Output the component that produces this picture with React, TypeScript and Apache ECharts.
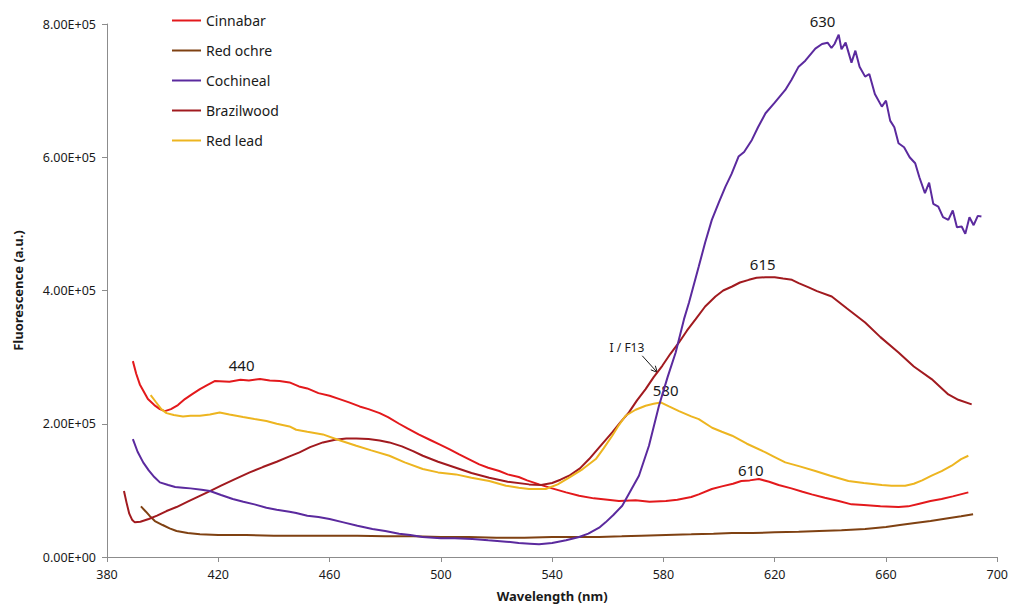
import React, { useEffect, useRef } from "react";
import * as echarts from "echarts";

// Values in units of 1e5 (a.u.), x in nm
const cinnabar: number[][] = [
  [389.3, 2.94], [390.5, 2.75], [391.8, 2.59], [394.7, 2.37], [397, 2.28], [399, 2.22], [400.8, 2.19], [403, 2.22],
  [405.5, 2.28], [408, 2.37], [410.5, 2.44], [413.4, 2.52], [416, 2.58], [418.7, 2.64], [424, 2.63], [428, 2.66],
  [431, 2.65], [435, 2.67], [438.5, 2.65], [442, 2.64], [445.6, 2.62], [449, 2.56], [452, 2.53], [456, 2.46],
  [460, 2.42], [463.6, 2.37], [467, 2.32], [470.8, 2.26], [474, 2.22], [478, 2.16], [481, 2.1], [485, 2.0],
  [488, 1.93], [492, 1.84], [496, 1.76], [499.5, 1.69], [503, 1.62], [506.6, 1.54], [510, 1.47], [513.8, 1.39],
  [517, 1.34], [521, 1.29], [524, 1.24], [528, 1.2], [531, 1.15], [535.3, 1.09], [540, 1.03], [545, 0.97],
  [549.7, 0.92], [555, 0.88], [560, 0.86], [564, 0.84], [570, 0.85], [575, 0.83], [580.9, 0.84], [585, 0.86],
  [590, 0.9], [592.7, 0.94], [597.4, 1.02], [601, 1.06], [605, 1.1], [608, 1.14], [611, 1.15], [614.3, 1.17],
  [618, 1.13], [621.4, 1.08], [626, 1.03], [630, 0.98], [633.3, 0.94], [638, 0.89], [643, 0.84], [647.6, 0.79],
  [652, 0.78], [658, 0.76], [664.5, 0.75], [668, 0.76], [672, 0.8], [676, 0.84], [680, 0.87], [684, 0.91], [689.6, 0.97],
];

const redOchre: number[][] = [
  [392.2, 0.76], [394, 0.68], [395.5, 0.61], [397.2, 0.54], [400, 0.48], [402.5, 0.43], [405, 0.39], [409, 0.36],
  [413.4, 0.34], [420, 0.33], [430, 0.33], [440, 0.32], [449, 0.32], [460, 0.32], [470, 0.32], [480, 0.31],
  [490, 0.31], [500, 0.3], [510, 0.3], [520, 0.29], [530, 0.29], [540, 0.3], [550, 0.3], [556.9, 0.3],
  [565, 0.31], [572, 0.32], [580.9, 0.33], [590, 0.34], [598, 0.35], [604.7, 0.36], [612, 0.36], [620, 0.37],
  [628.6, 0.38], [636, 0.39], [644, 0.4], [652.5, 0.42], [660, 0.45], [665, 0.48], [670.4, 0.51], [676, 0.54],
  [682.3, 0.58], [687, 0.61], [691.3, 0.64],
];

const cochineal: number[][] = [
  [389.3, 1.77], [391, 1.58], [393, 1.42], [395, 1.3], [397, 1.2], [399, 1.12], [402, 1.08], [404.5, 1.05],
  [407.3, 1.04], [410, 1.03], [414, 1.01], [417, 0.99], [421, 0.93], [425.2, 0.87], [429, 0.83], [433, 0.79],
  [437.3, 0.74], [441, 0.71], [445.6, 0.68], [448, 0.66], [452, 0.62], [456, 0.6], [460, 0.57], [465, 0.52],
  [470, 0.47], [475.4, 0.42], [480, 0.39], [485, 0.35], [489, 0.33], [493.4, 0.3], [500, 0.28], [505, 0.28],
  [511.3, 0.27], [517, 0.25], [523.5, 0.23], [528, 0.21], [532, 0.2], [535.3, 0.19], [540, 0.21], [545, 0.25],
  [549.7, 0.3], [553, 0.35], [556.9, 0.44], [559.2, 0.52], [562, 0.63], [565.2, 0.77], [568, 0.98], [571.2, 1.22],
  [574.8, 1.67], [578.4, 2.27], [581.5, 2.7], [584.4, 3.07], [587.4, 3.57], [589.2, 3.82], [592.7, 4.36],
  [595, 4.72], [597.4, 5.06], [600, 5.33], [602.3, 5.56], [604.5, 5.75], [607, 6.01], [609, 6.08], [611.8, 6.26],
  [614, 6.45], [616.7, 6.66], [620, 6.82], [623.8, 7.01], [626, 7.16], [628.6, 7.36], [631, 7.45], [634.6, 7.63],
  [637, 7.7], [639, 7.72], [640.4, 7.64], [641.5, 7.7], [643, 7.84], [644, 7.62], [645.5, 7.72], [647.6, 7.42],
  [649, 7.6], [650.5, 7.36], [652.5, 7.21], [654, 7.25], [656, 6.95], [658.5, 6.76], [660, 6.85], [661.5, 6.55],
  [663, 6.45], [664.5, 6.21], [666.5, 6.15], [668.5, 6.0], [670.5, 5.91], [672, 5.7], [674, 5.46], [675.5, 5.62],
  [677, 5.3], [678.8, 5.26], [680.5, 5.1], [682.4, 5.06], [684, 5.2], [685.5, 4.95], [687.2, 4.96], [688.5, 4.85],
  [690, 5.1], [691.5, 4.98], [693, 5.12], [694.3, 5.11],
];

const brazilwood: number[][] = [
  [386.1, 0.99], [387, 0.82], [388, 0.65], [389, 0.56], [390, 0.52], [392, 0.53], [395, 0.57], [398, 0.62],
  [401.4, 0.69], [405, 0.75], [409, 0.83], [413, 0.91], [417, 0.99], [421, 1.07], [426, 1.17], [431.3, 1.27],
  [436, 1.35], [441, 1.43], [445.6, 1.51], [449.2, 1.57], [453, 1.65], [457.6, 1.72], [462, 1.76], [466, 1.78],
  [469.6, 1.78], [474, 1.77], [478, 1.75], [481.5, 1.72], [486, 1.66], [490, 1.59], [493.5, 1.52], [499, 1.43],
  [505.4, 1.34], [511, 1.26], [517.4, 1.19], [524, 1.13], [531.7, 1.09], [536, 1.08], [540, 1.11], [543, 1.16],
  [546.1, 1.22], [550, 1.33], [553.3, 1.47], [557, 1.65], [561.6, 1.87], [564.5, 2.02], [567.6, 2.17], [570.5, 2.35],
  [573.6, 2.52], [576.5, 2.7], [579.6, 2.87], [582.5, 3.05], [585.6, 3.22], [588.5, 3.4], [591.6, 3.57], [595, 3.76],
  [598.7, 3.91], [601.5, 4.0], [604.7, 4.06], [607.5, 4.12], [610.7, 4.16], [613.5, 4.19], [616.7, 4.2], [620, 4.2],
  [623, 4.18], [626.2, 4.16], [628.6, 4.11], [632, 4.05], [635.2, 3.99], [640.5, 3.91], [646, 3.73], [652.5, 3.52],
  [658, 3.3], [664.5, 3.07], [670, 2.86], [676.4, 2.67], [682.4, 2.44], [686, 2.36], [690.8, 2.29],
];

const redLead: number[][] = [
  [395.7, 2.43], [397.5, 2.33], [399.5, 2.22], [401.4, 2.16], [404, 2.13], [407.3, 2.11], [410, 2.12], [413.4, 2.12],
  [417, 2.14], [420.5, 2.17], [424, 2.14], [428.9, 2.1], [433, 2.07], [437.3, 2.04], [441, 2.0], [445.6, 1.96],
  [448, 1.91], [452, 1.88], [457.6, 1.84], [463, 1.76], [469.6, 1.67], [475, 1.6], [481.5, 1.52], [487, 1.42],
  [493.5, 1.32], [499, 1.27], [505.4, 1.24], [511, 1.19], [517.4, 1.14], [523.4, 1.07], [528, 1.04], [531.7, 1.02],
  [537.7, 1.02], [542, 1.09], [546.1, 1.19], [551, 1.32], [555.7, 1.47], [558.5, 1.63], [561.6, 1.82], [564, 1.98],
  [566.4, 2.12], [570, 2.21], [573.6, 2.27], [576.5, 2.3], [579, 2.32], [582, 2.26], [585.6, 2.19], [590, 2.11],
  [592.7, 2.07], [597.5, 1.94], [601, 1.88], [604.7, 1.82], [610, 1.7], [616.7, 1.57], [620, 1.5], [623.8, 1.42],
  [629, 1.36], [634.6, 1.29], [640, 1.22], [646.5, 1.14], [652, 1.11], [658.5, 1.08], [662, 1.07], [666.9, 1.07],
  [670, 1.1], [673, 1.15], [676.4, 1.22], [680, 1.29], [683.6, 1.37], [687, 1.47], [689.6, 1.52],
];

const seriesNames = ["Cinnabar", "Red ochre", "Cochineal", "Brazilwood", "Red lead"];
const seriesData = [cinnabar, redOchre, cochineal, brazilwood, redLead];
const seriesColors = ["#E3191C", "#7F4112", "#5B2A9E", "#A11A1F", "#EDB520"];

// Peak annotations: [text, x (nm), y (1e5 a.u.)]
const peakLabels: [string, number, number][] = [
  ["630", 637.2, 8.04],
  ["615", 615.7, 4.4],
  ["440", 428.4, 2.88],
  ["580", 580.8, 2.5],
  ["610", 611.4, 1.31],
];
const noteLabel: [string, number, number] = ["I / F13", 566.9, 3.15];
const noteArrow: number[][] = [[572.4, 3.02], [577.8, 2.77]];

const SCALE = 1e5;
const FONT = "Noto Sans";

function sci(v: number): string {
  if (v === 0) return "0.00E+00";
  const e = Math.floor(Math.log10(Math.abs(v)));
  const m = v / Math.pow(10, e);
  return `${m.toFixed(2)}E${e >= 0 ? "+" : "-"}${String(Math.abs(e)).padStart(2, "0")}`;
}

export default function App() {
  const ref = useRef<HTMLDivElement>(null);
  useEffect(() => {
    if (!ref.current) return;
    const chart = echarts.init(ref.current, undefined, { renderer: "svg" });
    const option: any = {
      animation: false,
      backgroundColor: "#ffffff",
      textStyle: { fontFamily: FONT },
      grid: { left: 107, right: 12, top: 24, bottom: 49, containLabel: false },
      legend: {
        orient: "vertical",
        left: 167,
        top: 7.5,
        icon: "rect",
        itemWidth: 29,
        itemHeight: 2,
        itemGap: 14,
        textStyle: { fontFamily: FONT, fontSize: 14, color: "#1a1a1a", lineHeight: 16 },
        data: seriesNames,
      },
      xAxis: {
        type: "value",
        min: 380,
        max: 700,
        interval: 40,
        name: "Wavelength (nm)",
        nameLocation: "middle",
        nameGap: 32,
        nameTextStyle: { fontFamily: FONT, fontSize: 13, fontWeight: "bold", color: "#1a1a1a" },
        axisLine: { show: true, lineStyle: { color: "#8c8c8c", width: 1 } },
        axisTick: { show: true, length: 5, lineStyle: { color: "#8c8c8c" } },
        axisLabel: { fontFamily: FONT, fontSize: 12.5, color: "#1a1a1a", margin: 11 },
        splitLine: { show: false },
      },
      yAxis: {
        type: "value",
        min: 0,
        max: 8e5,
        interval: 2e5,
        name: "Fluorescence (a.u.)",
        nameLocation: "middle",
        nameGap: 83,
        nameTextStyle: { fontFamily: FONT, fontSize: 13, fontWeight: "bold", color: "#1a1a1a" },
        axisLine: { show: true, lineStyle: { color: "#8c8c8c", width: 1 } },
        axisTick: { show: true, length: 5, lineStyle: { color: "#8c8c8c" } },
        axisLabel: { fontFamily: FONT, fontSize: 12.5, color: "#1a1a1a", margin: 11, formatter: (v: number) => sci(v) },
        splitLine: { show: false },
      },
      series: seriesNames.map((name, i) => ({
        name,
        type: "line",
        symbol: "none",
        showSymbol: false,
        smooth: false,
        color: seriesColors[i],
        itemStyle: { color: seriesColors[i] },
        lineStyle: { color: seriesColors[i], width: 2 },
        data: seriesData[i].map((p) => [p[0], p[1] * SCALE]),
        z: i === 2 ? 3 : 2,
      })),
    };
    chart.setOption(option);

    const toPx = (x: number, y: number) => chart.convertToPixel({ gridIndex: 0 }, [x, y * SCALE]) as number[];
    const graphics: any[] = peakLabels.map(([t, x, y]) => {
      const p = toPx(x, y);
      return {
        type: "text",
        x: p[0],
        y: p[1],
        style: { text: t, fill: "#1a1a1a", font: `15px "${FONT}"`, align: "center", verticalAlign: "middle" },
      };
    });
    const np = toPx(noteLabel[1], noteLabel[2]);
    graphics.push({
      type: "text",
      x: np[0],
      y: np[1],
      style: { text: noteLabel[0], fill: "#1a1a1a", font: `12px "${FONT}"`, align: "center", verticalAlign: "middle" },
    });
    const a0 = toPx(noteArrow[0][0], noteArrow[0][1]);
    const a1 = toPx(noteArrow[1][0], noteArrow[1][1]);
    graphics.push({
      type: "line",
      shape: { x1: a0[0], y1: a0[1], x2: a1[0], y2: a1[1] },
      style: { stroke: "#1a1a1a", lineWidth: 1 },
    });
    const ang = Math.atan2(a1[1] - a0[1], a1[0] - a0[0]);
    const hl = 7;
    const spread = 0.45;
    graphics.push({
      type: "polyline",
      shape: {
        points: [
          [a1[0] - hl * Math.cos(ang - spread), a1[1] - hl * Math.sin(ang - spread)],
          [a1[0], a1[1]],
          [a1[0] - hl * Math.cos(ang + spread), a1[1] - hl * Math.sin(ang + spread)],
        ],
      },
      style: { stroke: "#1a1a1a", lineWidth: 1, fill: "none" },
    });
    chart.setOption({ graphic: graphics });

    return () => chart.dispose();
  }, []);
  return <div ref={ref} style={{ width: 1011, height: 607, position: "absolute", left: 0, top: 0 }} />;
}
